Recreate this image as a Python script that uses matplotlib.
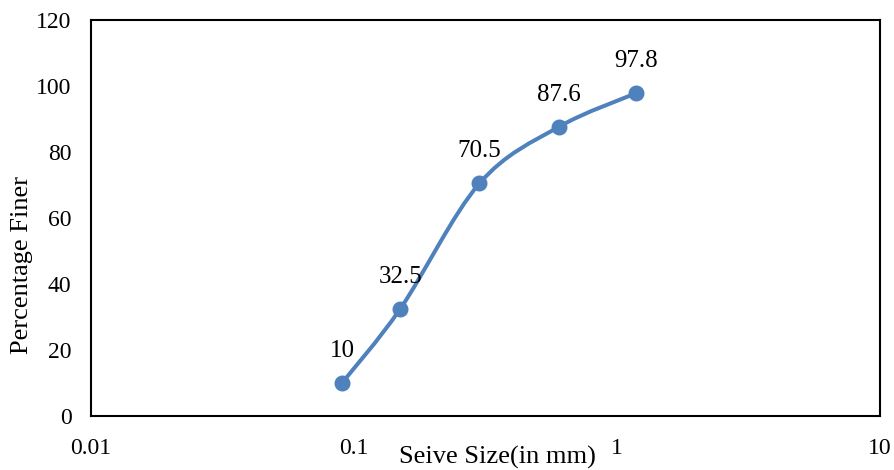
import numpy as np
import matplotlib.pyplot as plt
from matplotlib.path import Path
from matplotlib.patches import PathPatch

plt.rcParams['font.family'] = ['Liberation Serif', 'DejaVu Serif']

sieve_mm = [0.09, 0.15, 0.3, 0.6, 1.18]
finer = [10, 32.5, 70.5, 87.6, 97.8]
value_labels = ['10', '32.5', '70.5', '87.6', '97.8']
y_ticks = [0, 20, 40, 60, 80, 100, 120]
x_ticks = [0.01, 0.1, 1, 10]
x_tick_labels = ['0.01', '0.1', '1', '10']

blue = '#4F81BD'

fig = plt.figure(figsize=(8.95, 4.70), dpi=100)
ax = fig.add_axes([0.1017, 0.1149, 0.8815, 0.8425])

ax.set_xscale('log')
ax.set_xlim(0.01, 10)
ax.set_ylim(0, 120)

# smooth curve: Catmull-Rom bezier built in log-x space
lx = np.log10(sieve_mm)
yy = np.array(finer, dtype=float)
px = np.concatenate([[lx[0]], lx, [lx[-1]]])
py = np.concatenate([[yy[0]], yy, [yy[-1]]])
verts = [(sieve_mm[0], finer[0])]
codes = [Path.MOVETO]
t = 1 / 6
for i in range(1, len(lx)):
    c1x = px[i] + (px[i + 1] - px[i - 1]) * t
    c1y = py[i] + (py[i + 1] - py[i - 1]) * t
    c2x = px[i + 1] - (px[i + 2] - px[i]) * t
    c2y = py[i + 1] - (py[i + 2] - py[i]) * t
    verts += [(10 ** c1x, c1y), (10 ** c2x, c2y), (sieve_mm[i], finer[i])]
    codes += [Path.CURVE4] * 3
ax.add_patch(PathPatch(Path(verts, codes), fill=False, edgecolor=blue,
                       lw=2.9, capstyle='round'))
ax.plot(sieve_mm, finer, 'o', color=blue, markersize=10.5, zorder=3)

for x, y, s in zip(sieve_mm, finer, value_labels):
    ax.annotate(s, (x, y), xytext=(0, 23), textcoords='offset points',
                ha='center', va='center', fontsize=18)

ax.set_yticks(y_ticks)
ax.set_xticks(x_ticks)
ax.set_xticklabels(x_tick_labels)
ax.minorticks_off()
ax.tick_params(length=0, labelsize=17)
ax.tick_params(axis='y', pad=14)
ax.tick_params(axis='x', pad=16)
for sp in ax.spines.values():
    sp.set_linewidth(1.5)
    sp.set_color('black')

fig.text(497 / 895, 1 - 457 / 470, 'Seive Size(in mm)', ha='center', va='center', fontsize=19)
fig.text(22 / 895, 1 - 265 / 470, 'Percentage Finer', ha='center', va='center',
         rotation=90, fontsize=19)

fig.savefig('out.png', dpi=100)
